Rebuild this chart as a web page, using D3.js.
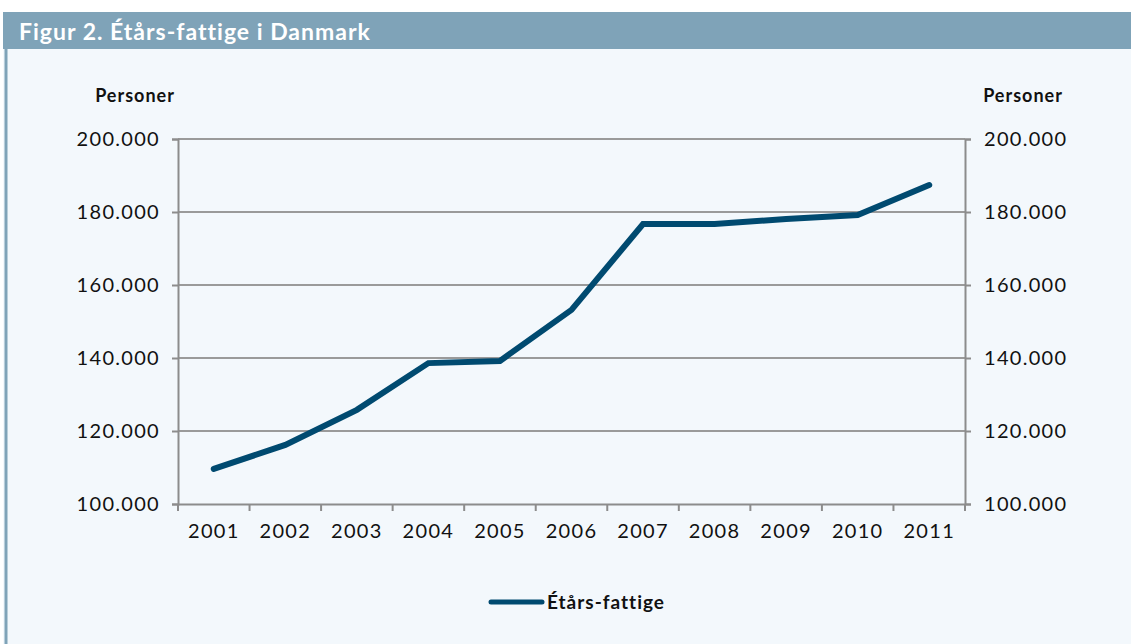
<!DOCTYPE html>
<html>
<head>
<meta charset="utf-8">
<script src="https://cdn.jsdelivr.net/npm/d3@7"></script>
<style>
  body { margin: 0; background: #ffffff; }
  text { font-family: Lato, "Open Sans", sans-serif; }
</style>
</head>
<body>
<div id="my_dataviz"></div>
<script>
// data
var years = ["2001","2002","2003","2004","2005","2006","2007","2008","2009","2010","2011"];
var fattige = [109600, 116200, 125800, 138600, 139200, 153200, 176700, 176700, 178100, 179200, 187400];
var yTicks = [100000, 120000, 140000, 160000, 180000, 200000];
var title = "Figur 2. Étårs-fattige i Danmark";
var seriesName = "Étårs-fattige";

var W = 1131, H = 644;
var margin = {top: 139, right: 166, bottom: 140, left: 178},
    width = W - margin.left - margin.right,
    height = H - margin.top - margin.bottom;

var fmt = function(d){ return d3.format(",")(d).replace(/,/g, "."); };

var svg = d3.select("#my_dataviz")
  .append("svg")
  .attr("width", W)
  .attr("height", H);

// panel background + header
svg.append("rect").attr("x", 3).attr("y", 12).attr("width", W - 3).attr("height", H - 12).attr("fill", "#f3f8fc");
svg.append("rect").attr("x", 3).attr("y", 12).attr("width", W - 3).attr("height", 37).attr("fill", "#7fa3b8");
svg.append("line").attr("x1", 6).attr("x2", 6).attr("y1", 49).attr("y2", H)
  .attr("stroke", "#7fa3b8").attr("stroke-width", 3);
svg.append("text").attr("x", 19).attr("y", 40).text(title)
  .attr("fill", "#ffffff").attr("font-weight", "bold").attr("font-size", 23)
  .style("letter-spacing", "1px");

var g = svg.append("g").attr("transform", "translate(" + margin.left + "," + margin.top + ")");

var x = d3.scaleBand().domain(years).range([0, width]);
var y = d3.scaleLinear().domain([100000, 200000]).range([height, 0]);

// gridlines
g.append("g").selectAll("line").data(yTicks.slice(1)).enter().append("line")
  .attr("x1", 0).attr("x2", width)
  .attr("y1", function(d){ return y(d); }).attr("y2", function(d){ return y(d); })
  .attr("stroke", "#9a9a9a").attr("stroke-width", 2);

// left axis
var yl = g.append("g")
  .call(d3.axisLeft(y).tickValues(yTicks).tickFormat(fmt).tickSize(6).tickPadding(12));
// right axis
var yr = g.append("g").attr("transform", "translate(" + width + ",0)")
  .call(d3.axisRight(y).tickValues(yTicks).tickFormat(fmt).tickSize(6).tickPadding(13));
// bottom axis, ticks at band edges
var xa = g.append("g").attr("transform", "translate(0," + height + ")")
  .call(d3.axisBottom(x).tickSize(0).tickPadding(20));
xa.selectAll(".edge").data(d3.range(years.length + 1)).enter().append("line")
  .attr("class", "edge")
  .attr("x1", function(i){ return i * x.bandwidth(); })
  .attr("x2", function(i){ return i * x.bandwidth(); })
  .attr("y1", 0).attr("y2", 7);

[yl, yr, xa].forEach(function(a){
  a.select(".domain").attr("stroke", "#8c8c8c").attr("stroke-width", 2);
  a.selectAll("line").attr("stroke", "#8c8c8c").attr("stroke-width", 2);
  a.selectAll("text").attr("font-family", "Lato, sans-serif").attr("font-size", 20)
    .attr("fill", "#111").style("letter-spacing", "1.3px");
});
xa.selectAll(".tick text").attr("dy", "0.71em");

// axis titles
svg.append("text").attr("x", 135).attr("y", 102).attr("text-anchor", "middle")
  .attr("font-weight", "bold").attr("font-size", 18).attr("fill", "#111")
  .style("letter-spacing", "1px").text("Personer");
svg.append("text").attr("x", 1023).attr("y", 102).attr("text-anchor", "middle")
  .attr("font-weight", "bold").attr("font-size", 18).attr("fill", "#111")
  .style("letter-spacing", "1px").text("Personer");

// line
var line = d3.line()
  .x(function(d, i){ return x(years[i]) + x.bandwidth() / 2; })
  .y(function(d){ return y(d); });

g.append("path").datum(fattige)
  .attr("d", line)
  .attr("fill", "none")
  .attr("stroke", "#004a70")
  .attr("stroke-width", 6)
  .attr("stroke-linecap", "round")
  .attr("stroke-linejoin", "miter");

// legend
var lg = svg.append("g").attr("transform", "translate(489,602)");
lg.append("line").attr("x1", 2).attr("x2", 53).attr("y1", 0).attr("y2", 0)
  .attr("stroke", "#004a70").attr("stroke-width", 5).attr("stroke-linecap", "round");
lg.append("text").attr("x", 58).attr("y", 7).attr("font-weight", "bold").attr("font-size", 19)
  .attr("fill", "#111").style("letter-spacing", "1px").text(seriesName);
</script>
</body>
</html>
